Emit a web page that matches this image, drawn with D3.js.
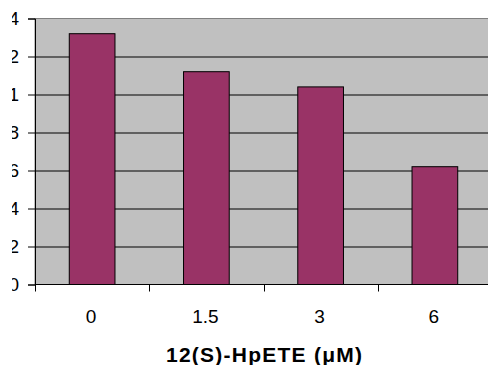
<!DOCTYPE html>
<html>
<head>
<meta charset="utf-8">
<script src="https://cdn.jsdelivr.net/npm/d3@7/dist/d3.min.js"></script>
<style>
  html, body { margin: 0; padding: 0; background: #fff; }
  svg { display: block; font-family: "Liberation Sans", Arial, sans-serif; }
</style>
</head>
<body>
<div id="chart"></div>
<script>
// doses of 12(S)-HpETE, uM
const categories = ['0', '1.5', '3', '6']
const values = [1.32, 1.12, 1.04, 0.62]
const yTicks = [0, 0.2, 0.4, 0.6, 0.8, 1, 1.2, 1.4]

const W = 488, H = 365
const margin = { left: 35, top: 18.5, right: -4, bottom: 80.5 }
const width = W - margin.left - margin.right
const height = H - margin.top - margin.bottom

const svg = d3.select('#chart').append('svg')
  .attr('width', W).attr('height', H)

const g = svg.append('g')
  .attr('transform', `translate(${margin.left},${margin.top})`)

// the y labels are cut off on the left in the original
g.append('clipPath').attr('id', 'ylab')
  .append('rect').attr('x', 12 - margin.left).attr('y', -margin.top)
  .attr('width', 30).attr('height', H)

const x = d3.scaleBand().domain(categories).range([0, width]).paddingInner(0.6).paddingOuter(0.3)
const y = d3.scaleLinear().domain([0, 1.4]).range([height, 0])

g.append('rect')
  .attr('width', width).attr('height', height)
  .attr('fill', '#c0c0c0')
  .attr('stroke', '#808080').attr('stroke-width', 1)

// gridlines
g.append('g').selectAll('line').data(yTicks.filter(d => d > 0 && d < 1.4))
  .enter().append('line')
  .attr('x1', 0).attr('x2', width)
  .attr('y1', d => Math.round(y(d)) + 0.5).attr('y2', d => Math.round(y(d)) + 0.5)
  .attr('stroke', '#000')

g.append('g').selectAll('rect').data(values)
  .enter().append('rect')
  .attr('x', (d, i) => x(categories[i]))
  .attr('y', d => y(d))
  .attr('width', x.bandwidth())
  .attr('height', d => y(0) - y(d))
  .attr('fill', '#993366')
  .attr('stroke', '#000').attr('stroke-width', 1)

// y axis
const yAxis = g.append('g')
  .call(d3.axisLeft(y).tickValues(yTicks).tickSize(7).tickFormat(d3.format('~g')))
yAxis.select('.domain').attr('stroke', '#000')
yAxis.selectAll('.tick line').attr('stroke', '#000')
yAxis.selectAll('.tick text')
  .attr('x', -16).attr('font-size', 19).attr('fill', '#000')
  .attr('font-family', '"Liberation Sans", Arial, sans-serif')
  .attr('clip-path', 'url(#ylab)')

// x axis
const xAxis = g.append('g').attr('transform', `translate(0,${height})`)
xAxis.append('line').attr('x1', 0).attr('x2', width).attr('stroke', '#000')
const step = x.step()
xAxis.selectAll('.sep').data(d3.range(categories.length + 1))
  .enter().append('line').attr('class', 'sep')
  .attr('x1', i => Math.round(i * step) + 0.5).attr('x2', i => Math.round(i * step) + 0.5)
  .attr('y1', 0).attr('y2', 7).attr('stroke', '#000')
xAxis.selectAll('text').data(categories)
  .enter().append('text')
  .attr('x', d => x(d) + x.bandwidth() / 2 - 1)
  .attr('y', 38)
  .attr('text-anchor', 'middle')
  .attr('font-size', 19)
  .text(d => d)

svg.append('text')
  .attr('x', 264).attr('y', 361.5)
  .attr('text-anchor', 'middle')
  .attr('font-size', 21).attr('font-weight', 'bold')
  .attr('textLength', 196).attr('lengthAdjust', 'spacing')
  .text('12(S)-HpETE (\u03bcM)')
</script>
</body>
</html>
